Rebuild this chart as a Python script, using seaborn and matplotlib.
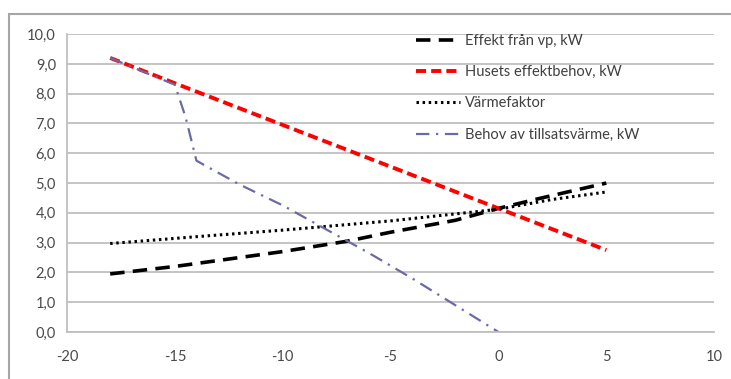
import numpy as np
import matplotlib
matplotlib.use('Agg')
import matplotlib.pyplot as plt
import pandas as pd
import seaborn as sns
from matplotlib.patches import Rectangle

sns.set_style('white')
plt.rcParams['font.family'] = ['Lato', 'DejaVu Sans']

# values
temp_vp = [-18, -15, -14, -10, -7, -5, -2, 0, 2, 5]
effekt_vp = [1.95, 2.2, 2.3, 2.7, 3.05, 3.35, 3.75, 4.15, 4.5, 5.0]

temp_hus = [-18, -15, -10, -5, 0, 5]
husets_behov = [9.2, 8.35, 6.95, 5.55, 4.15, 2.75]

temp_vf = [-18, -14, -10, -5, 0, 2.5, 5]
varmefaktor = [2.97, 3.2, 3.42, 3.73, 4.12, 4.45, 4.7]

temp_till = [-18, -15, -14.5, -14, -12, -10, -8, -6, -4, -2, 0]
tillsats = [9.2, 8.3, 7.2, 5.75, 4.95, 4.25, 3.45, 2.65, 1.8, 0.9, 0.0]

labels = ['Effekt från vp, kW', 'Husets effektbehov, kW',
          'Värmefaktor', 'Behov av tillsatsvärme, kW']
yticks = np.arange(0, 10.5, 1.0)
xticks = [-20, -15, -10, -5, 0, 5, 10]

fig = plt.figure(figsize=(7.31, 3.79), dpi=100)
ax = fig.add_axes([0.0917, 0.124, 0.8853, 0.786])

# outer chart frame like the spreadsheet
fig.patches.append(Rectangle((9 / 731, -0.05), 1.0, 1 - 14 / 379 + 0.05,
                             transform=fig.transFigure, fill=False,
                             edgecolor='#A6A6A6', linewidth=1.5))

sns.lineplot(x=temp_vp, y=effekt_vp, ax=ax, color='black', linewidth=2.6,
             linestyle=(0, (4, 2.3)), label=labels[0])
sns.lineplot(x=temp_hus, y=husets_behov, ax=ax, color='#FF0000',
             linewidth=2.8, linestyle=(0, (2.6, 1.3)), label=labels[1])
sns.lineplot(x=temp_vf, y=varmefaktor, ax=ax, color='black', linewidth=2.2,
             linestyle=(0, (0.8, 1.2)), label=labels[2])
sns.lineplot(x=temp_till, y=tillsats, ax=ax, color='#6A6AA8', linewidth=1.6,
             linestyle=(0, (6, 3, 1, 3)), label=labels[3])

ax.set_xlim(-20, 10)
ax.set_ylim(0, 10)
ax.set_xticks(xticks)
ax.set_xticklabels([str(t) for t in xticks])
ax.set_yticks(yticks)
ax.set_yticklabels([f'{v:.1f}'.replace('.', ',') for v in yticks])
ax.yaxis.grid(True, color='#BFBFBF', linewidth=1.3)
ax.set_axisbelow(True)
for side in ['top', 'right']:
    ax.spines[side].set_visible(False)
for side in ['left', 'bottom']:
    ax.spines[side].set_color('#BFBFBF')
    ax.spines[side].set_linewidth(1.3)
ax.tick_params(axis='both', which='both', direction='out', length=5,
               width=1.3, color='#BFBFBF', labelsize=10.5,
               labelcolor='#4a4a4a', pad=3)
ax.tick_params(axis='x', pad=8)

leg = ax.legend(loc='upper left', bbox_to_anchor=(0.53, 1.02), frameon=False,
                fontsize=10.5, handlelength=3.0, handletextpad=0.4,
                labelspacing=1.18, borderaxespad=0)
for t in leg.get_texts():
    t.set_color('#404040')

fig.savefig('out.png', dpi=100)
